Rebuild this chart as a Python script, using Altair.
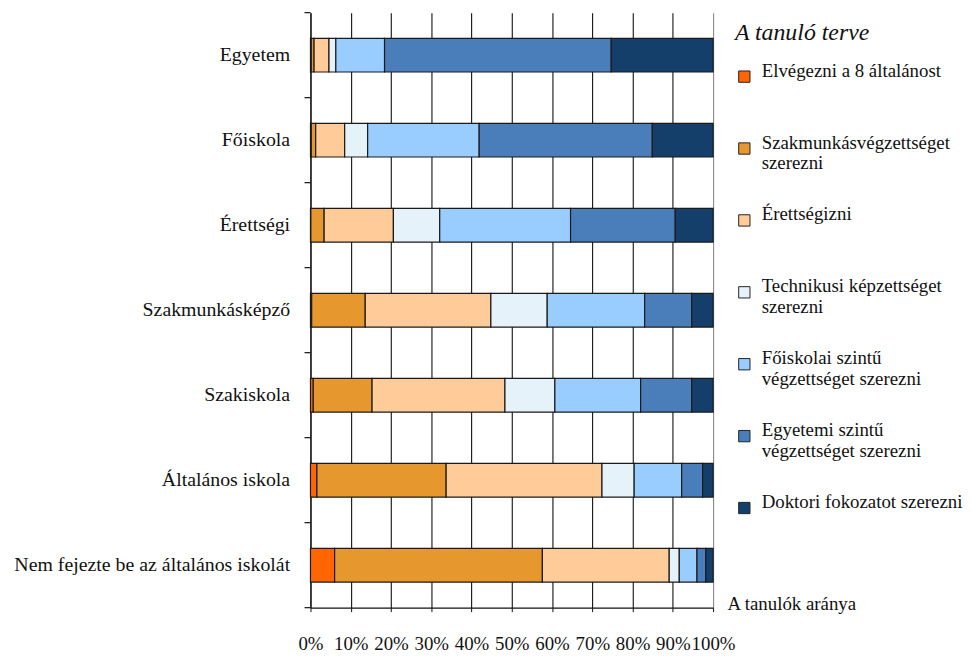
import altair as alt
import pandas as pd

categories = ["Egyetem", "Főiskola", "Érettségi", "Szakmunkásképző", "Szakiskola",
              "Általános iskola", "Nem fejezte be az általános iskolát"]
plans = ["Elvégezni a 8 általánost", "Szakmunkásvégzettséget szerezni", "Érettségizni",
         "Technikusi képzettséget szerezni", "Főiskolai szintű végzettséget szerezni",
         "Egyetemi szintű végzettséget szerezni", "Doktori fokozatot szerezni"]
colors = ["#FF6600", "#E6972D", "#FFCC99", "#E6F2FA", "#99CCFF", "#4A7EBB", "#143F6A"]

elvegezni = [0.2, 0.2, 0.1, 0.3, 0.7, 1.6, 6.0]
szakmunkas = [0.7, 1.1, 3.3, 13.3, 14.6, 32.1, 51.6]
erettsegi = [3.7, 7.2, 17.2, 31.2, 33.0, 38.7, 31.5]
technikusi = [1.7, 5.7, 11.5, 14.0, 12.4, 8.0, 2.5]
foiskolai = [12.1, 27.7, 32.5, 24.2, 21.3, 11.8, 4.4]
egyetemi = [56.3, 43.0, 26.0, 11.7, 12.7, 5.2, 2.2]
doktori = [25.3, 15.1, 9.4, 5.3, 5.3, 2.6, 1.8]

x_ticks = list(range(0, 101, 10))

legend_lines = {
    "Szakmunkásvégzettséget szerezni": ["Szakmunkásvégzettséget", "szerezni"],
    "Technikusi képzettséget szerezni": ["Technikusi képzettséget", "szerezni"],
    "Főiskolai szintű végzettséget szerezni": ["Főiskolai szintű", "végzettséget szerezni"],
    "Egyetemi szintű végzettséget szerezni": ["Egyetemi szintű", "végzettséget szerezni"],
}

series = [elvegezni, szakmunkas, erettsegi, technikusi, foiskolai, egyetemi, doktori]
rows = []
for pi, (plan, vals) in enumerate(zip(plans, series)):
    for cat, v in zip(categories, vals):
        rows.append({"cat": cat, "plan": plan, "value": v, "ord": pi})
df = pd.DataFrame(rows)

label_expr = "datum.label"
for k, lines in legend_lines.items():
    arr = "[" + ", ".join("'" + s + "'" for s in lines) + "]"
    label_expr = f"datum.label == '{k}' ? {arr} : ({label_expr})"

FONT = "Liberation Serif, Times New Roman, Times, serif"

y_scale = alt.Scale(domain=categories, paddingInner=0, paddingOuter=0)

bars = alt.Chart(df).mark_bar(size=34, stroke="#1a1a1a", strokeWidth=1.2).encode(
    y=alt.Y("cat:N", scale=y_scale, sort=categories,
            axis=alt.Axis(title=None, ticks=False, labelPadding=21, labelFont=FONT,
                          labelFontSize=20, labelColor="#111", labelLimit=400,
                          domainColor="#111", domainWidth=1.2, grid=False)),
    x=alt.X("value:Q", stack="zero",
            scale=alt.Scale(domain=[0, 100], nice=False),
            axis=alt.Axis(values=x_ticks, labelExpr="datum.value + '%'",
                          labelFont=FONT, labelFontSize=19, labelColor="#111",
                          labelPadding=23, labelFlush=False, labelOverlap=False,
                          tickSize=4, tickColor="#111",
                          domainColor="#111", domainWidth=1.2,
                          grid=True,
                          gridColor={"condition": {"test": "datum.value >= 100", "value": "#888888"},
                                     "value": "#111111"},
                          gridWidth=1.1, gridOpacity=1,
                          title="A tanulók aránya", titleFont=FONT, titleFontSize=19,
                          titleFontWeight="normal", titleColor="#111",
                          titleX=420, titleY=-4, titleAlign="left",
                          titleBaseline="middle", titleAngle=0)),
    color=alt.Color("plan:N", scale=alt.Scale(domain=plans, range=colors),
                    legend=alt.Legend(orient="none", legendX=428, legendY=9,
                                      title="A tanuló terve", titleFont=FONT,
                                      titleFontSize=24, titleFontStyle="italic",
                                      titleFontWeight="normal", titleColor="#111",
                                      titlePadding=22,
                                      labelFont=FONT, labelFontSize=19, labelColor="#111",
                                      labelLimit=400, labelOffset=8,
                                      labelBaseline="alphabetic",
                                      labelExpr=label_expr,
                                      symbolType="square", symbolSize=130,
                                      symbolStrokeColor="#222", symbolStrokeWidth=1,
                                      symbolOpacity=1,
                                      gridAlign="all", rowPadding=31.5)),
    order=alt.Order("ord:Q"),
)

tick_df = pd.DataFrame({"cat": categories})
ticks_top = alt.Chart(tick_df).mark_rule(color="#111", strokeWidth=1.2).encode(
    y=alt.Y("cat:N", scale=y_scale, sort=categories, bandPosition=0),
    x=alt.value(-6), x2=alt.value(0),
)
ticks_bottom = alt.Chart(pd.DataFrame({"cat": categories[-1:]})).mark_rule(
    color="#111", strokeWidth=1.2).encode(
    y=alt.Y("cat:N", scale=y_scale, sort=categories, bandPosition=1),
    x=alt.value(-6), x2=alt.value(0),
)

chart = alt.layer(bars, ticks_top, ticks_bottom).properties(
    width=406, height=600,
    autosize=alt.AutoSizeParams(type="none"),
    padding={"left": 305, "top": 2, "right": 252, "bottom": 44},
    background="white",
).configure_view(stroke=None)

chart.save("out.html", embed_options={"renderer": "svg", "actions": False})
